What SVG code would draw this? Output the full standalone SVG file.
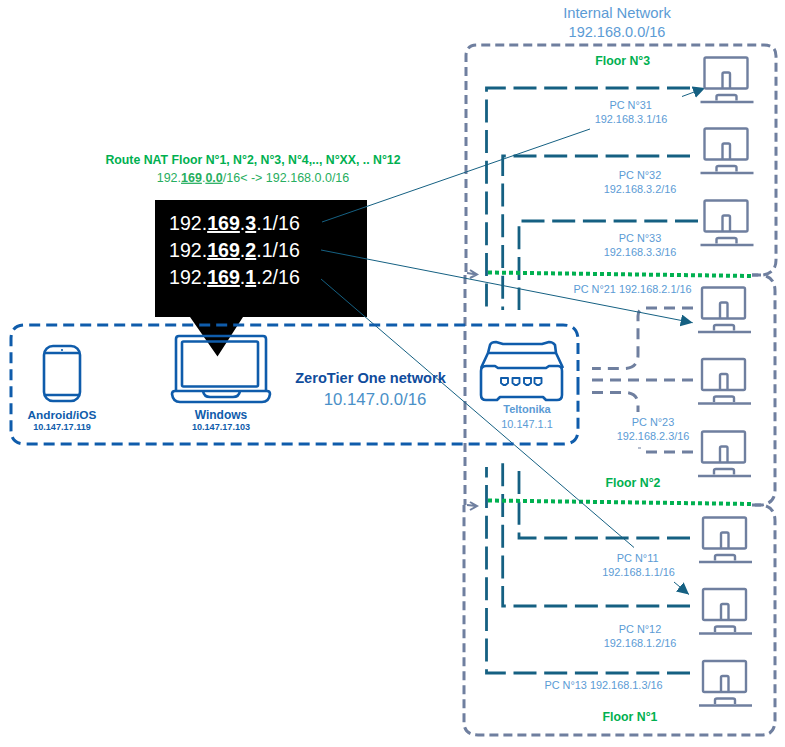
<svg xmlns="http://www.w3.org/2000/svg" width="785" height="747" viewBox="0 0 785 747">
<style>
text{font-family:"Liberation Sans",Arial,sans-serif}
.lb{fill:#5B9BD5;font-size:10.900px;text-anchor:middle}
.fl{fill:#00B050;font-size:12.300px;font-weight:700;text-anchor:middle}
.bk{fill:#fff;font-size:19.600px}
.bk tspan{font-weight:700;text-decoration:underline}
.dk{fill:none;stroke:#156082;stroke-width:2.800;stroke-dasharray:23 7.7}
.gr{fill:none;stroke:#6F7F9F;stroke-width:3;stroke-dasharray:9 5}
.gc{fill:none;stroke:#6F7F9F;stroke-width:3;stroke-dasharray:11 7}
.zt{fill:none;stroke:#0F5CAB;stroke-width:3;stroke-dasharray:11 6}
.gd{fill:none;stroke:#00B050;stroke-width:4;stroke-dasharray:4 3}
.th{fill:none;stroke:#156082;stroke-width:1}
.ic{fill:none;stroke:#0F5CAB;stroke-width:2.600;stroke-linejoin:round}
.pt{fill:none;stroke:#0F5CAB;stroke-width:1.900;stroke-linejoin:round}
.mn{fill:none;stroke:#6F7F9F;stroke-width:2.400;stroke-linejoin:round}
.ub{fill:#0F5CAB;font-weight:700;text-anchor:middle}
</style>
<defs>
<marker id="ah" markerUnits="userSpaceOnUse" markerWidth="14" markerHeight="14" refX="12" refY="6" orient="auto"><path d="M0 0L12 6L0 12Z" fill="#156082"/></marker>
<g id="pc" class="mn"><rect x="1" y="1" width="43" height="31" rx="1.5"/><path d="M19 32V17.5Q19 16 20.5 16H25Q26.500 16 26.500 17.500V32"/><path d="M13 44V40Q13 38.500 15 38.500H31Q33 38.500 33 40V44"/><path d="M-3 45.500H50"/></g>
</defs>

<g id="callout"><path d="M155 200H367V317H243L217.500 356.500L190 317H155Z" fill="#000"/>
<text class="bk" x="169" y="230">192.<tspan>169</tspan>.<tspan>3</tspan>.1/16</text>
<text class="bk" x="169" y="257">192.<tspan>169</tspan>.<tspan>2</tspan>.1/16</text>
<text class="bk" x="169" y="284">192.<tspan>169</tspan>.<tspan>1</tspan>.2/16</text></g>

<g id="frames">
<path class="gr" d="M466 272V56Q466 45 477 45H764Q776 45 776 56V260Q776 273 763 275H752"/>
<path class="gr" d="M752 275H762Q775 277 775 291V490Q775 503 762 505H752"/>
<path class="gr" d="M465 275V505"/>
<path class="gr" d="M752 505H762Q775 507 775 521V720Q775 735 762 735H478Q464 735 464 722V505"/>
<path d="M467 273L477 274.500M470 270L477 274.500L470 278M467 505L477 506M470 502L477 506L470 510" fill="none" stroke="#6F7F9F" stroke-width="2"/>
</g>

<g id="connectors">
<path class="dk" d="M690 88H486.500V310"/>
<path class="dk" d="M690 156H502.700V310"/>
<path class="dk" d="M698 221H519V310"/>
<path class="dk" d="M690 673H486.500V467"/>
<path class="dk" d="M690 606H502.700V461"/>
<path class="dk" d="M690 538H519V465"/>
<path class="gc" d="M693 308H646Q638 308 638 316V355Q638 368 625 368.500H592"/>
<path class="gc" d="M693 380H592"/>
<path class="gc" d="M592 392.500H625Q638 393 638 405V412"/>
<path class="gc" d="M693 452H645"/>
<path d="M638 448H641" stroke="#6F7F9F" stroke-width="1" fill="none"/>
<path class="gd" d="M488 272.500L753 276"/>
<path class="gd" d="M488 500.500L753 504"/>
<path class="th" d="M322 222L590 129"/>
<path class="th" d="M682 96.500L705 88" marker-end="url(#ah)"/>
<path class="th" d="M321 250L692.700 322.700" marker-end="url(#ah)"/>
<path class="th" d="M321 279L634 547.500"/>
<path class="th" d="M674 582L689 594.500" marker-end="url(#ah)"/>
</g>

<g id="zerotier"><path class="zt" d="M578 388V340Q578 325 563 325H25Q11 325 11 339V430Q11 444 25 444H563Q578 444 578 430V388"/>
<text x="370.500" y="383" fill="#0F4C9C" font-size="14.600" font-weight="700" text-anchor="middle">ZeroTier One network</text>
<text x="375" y="405" fill="#4A90C8" font-size="16.800" text-anchor="middle">10.147.0.0/16</text></g>

<g id="android"><rect class="ic" x="44" y="346" width="36" height="55" rx="9"/><path class="ic" d="M44 353H80M44 395H80"/><circle cx="62" cy="350" r="1.100" fill="#0F5CAB"/>
<text class="ub" x="62" y="419" font-size="11.800">Android/iOS</text><text class="ub" x="62" y="430" font-size="9.100">10.147.17.119</text></g>

<g id="windows"><path class="ic" d="M176 391V339Q176 336 179 336H263Q266 336 266 339V391"/><rect class="ic" x="182" y="341.500" width="76" height="45" rx="1.500"/><path class="ic" d="M175 391H267Q270 391 270 394Q269 402 262 402H180Q173 402 172 394Q172 391 175 391Z"/><path class="ic" d="M203 391Q204 397 210 397H233Q239 397 240 391"/>
<text class="ub" x="221" y="419" font-size="12">Windows</text><text class="ub" x="221" y="430" font-size="9.100">10.147.17.103</text></g>

<g id="teltonika"><path class="ic" d="M488 353L490 345Q491 342 496 342L503 344H542L549 342Q553 342 555 345L556 353L563 368"/><path class="ic" d="M488 353H556M488 353L481 368"/><path class="ic" d="M481 371Q481 366 486 366H495L498 368H546L549 366H558Q562 366 562 371V395Q562 400 557 400H546L543 397H500L497 400H486Q481 400 481 395Z"/><path class="pt" d="M501 378H508V383L505.500 385H503.500L501 383ZM512.500 378H519.500V383L517 385H515L512.500 383ZM524 378H531V383L528.500 385H526.500L524 383ZM534.500 378H541.500V383L539 385H537L534.500 383Z"/>
<text x="527" y="413" fill="#5B9BD5" font-size="11" font-weight="700" text-anchor="middle">Teltonika</text><text class="lb" x="527" y="427.700">10.147.1.1</text></g>

<g id="pc31"><use href="#pc" x="703.500" y="56.500"/><text class="lb" x="630.700" y="108.700">PC N°31</text><text class="lb" x="631" y="122.600">192.168.3.1/16</text></g>
<g id="pc32"><use href="#pc" x="703.500" y="127.500"/><text class="lb" x="640" y="179">PC N°32</text><text class="lb" x="640" y="192.700">192.168.3.2/16</text></g>
<g id="pc33"><use href="#pc" x="703.500" y="199.500"/><text class="lb" x="640" y="241.700">PC N°33</text><text class="lb" x="640" y="255.700">192.168.3.3/16</text></g>
<g id="pc21"><use href="#pc" x="701" y="286.500"/><text class="lb" x="632.500" y="293">PC N°21 192.168.2.1/16</text></g>
<g id="pc22"><use href="#pc" x="701" y="358"/></g>
<g id="pc23"><use href="#pc" x="701" y="430.500"/><text class="lb" x="653" y="425.600">PC N°23</text><text class="lb" x="653" y="440">192.168.2.3/16</text></g>
<g id="pc11"><use href="#pc" x="702" y="516.500"/><text class="lb" x="637.700" y="561.700">PC N°11</text><text class="lb" x="638.500" y="576">192.168.1.1/16</text></g>
<g id="pc12"><use href="#pc" x="702" y="588"/><text class="lb" x="640" y="632.700">PC N°12</text><text class="lb" x="640" y="646.700">192.168.1.2/16</text></g>
<g id="pc13"><use href="#pc" x="702" y="660"/><text class="lb" x="603.500" y="688.700">PC N°13 192.168.1.3/16</text></g>

<g id="labels">
<text x="617" y="18" fill="#5B9BD5" font-size="14.800" text-anchor="middle">Internal Network</text>
<text x="617" y="37" fill="#5B9BD5" font-size="14.500" text-anchor="middle">192.168.0.0/16</text>
<text class="fl" x="622.700" y="65">Floor N°3</text>
<text class="fl" x="633" y="487">Floor N°2</text>
<text class="fl" x="630" y="720.700">Floor N°1</text>
<text x="253" y="164" fill="#00B050" font-size="12.300" font-weight="700" text-anchor="middle">Route NAT Floor N°1, N°2, N°3, N°4,.., N°XX, .. N°12</text>
<text x="253" y="181.700" fill="#27AE60" font-size="12.500" text-anchor="middle">192.<tspan font-weight="700" text-decoration="underline">169</tspan>.<tspan font-weight="700" text-decoration="underline">0.0</tspan>/16&lt; -&gt; 192.168.0.0/16</text>
</g>
</svg>
